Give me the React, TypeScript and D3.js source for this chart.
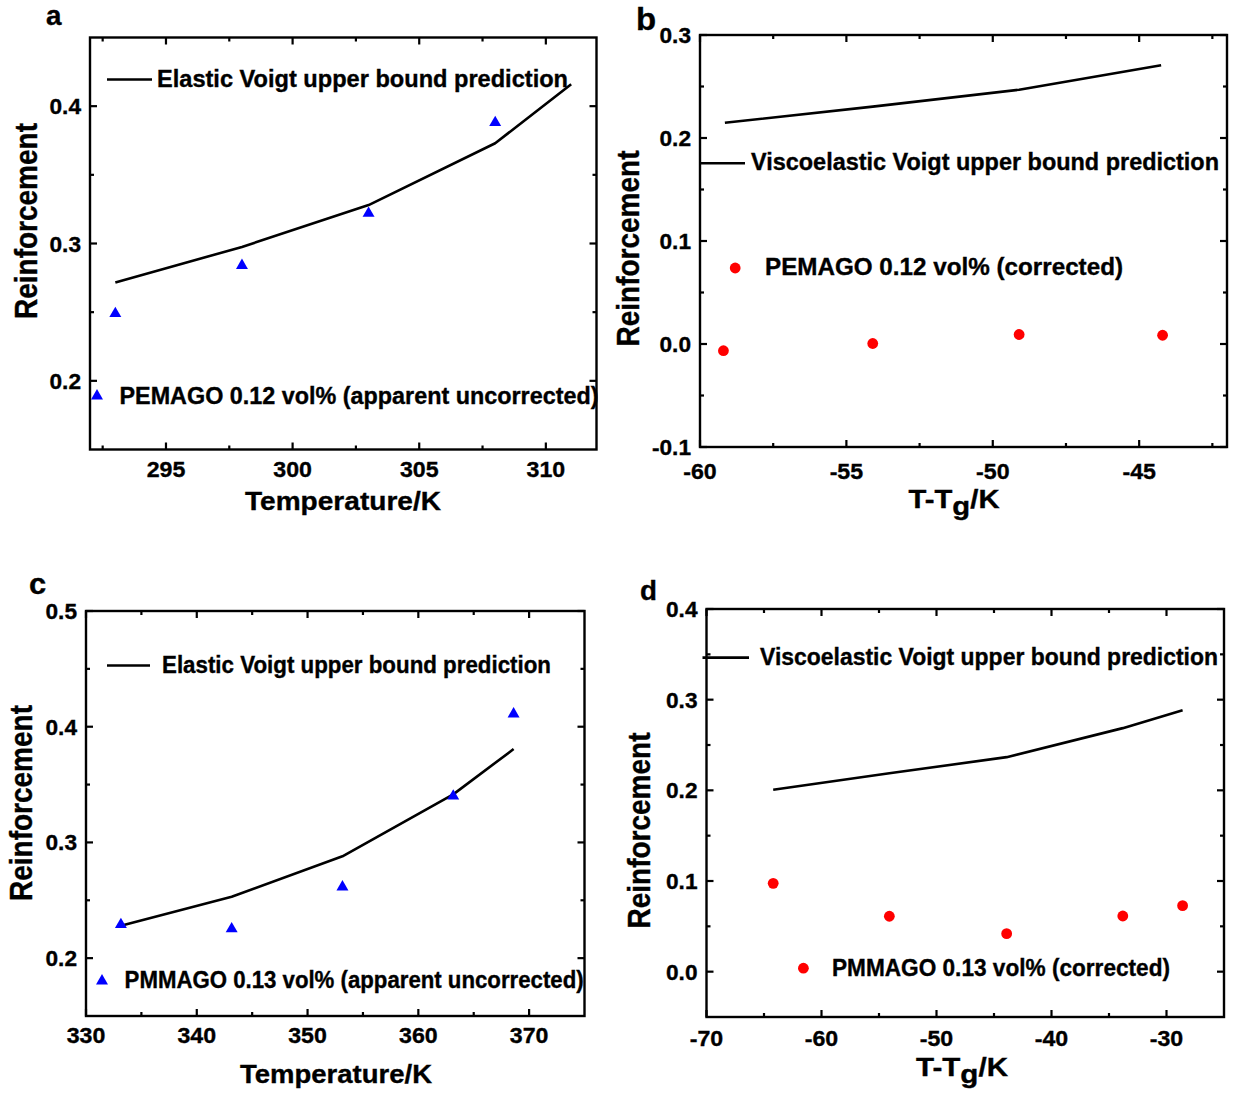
import React from "react";
import * as d3 from "d3";

// ---------------- data ----------------
// panel a : PEMAGO, temperature in K
const aTemperature = [293, 298, 303, 308];
const aApparent = [0.249, 0.284, 0.322, 0.388];
const aVoigtTemperature = [293, 298, 303, 308, 311];
const aVoigt = [0.2716, 0.2975, 0.328, 0.373, 0.416];

// panel b : PEMAGO, T - Tg in K
const bTminusTg = [-59.2, -54.1, -49.1, -44.2];
const bCorrected = [-0.0065, 0.0005, 0.0092, 0.0085];
const bVoigtTminusTg = [-59.15, -54.1, -49.1, -44.25];
const bVoigt = [0.2148, 0.2305, 0.2469, 0.2706];

// panel c : PMMAGO, temperature in K
const cTemperature = [333.15, 343.15, 353.15, 363.15, 368.6];
const cApparent = [0.229, 0.2253, 0.2615, 0.34, 0.411];
const cVoigt = [0.228, 0.253, 0.288, 0.3415, 0.3807];

// panel d : PMMAGO, T - Tg in K
const dTminusTg = [-64.2, -54.1, -43.9, -33.8, -28.6];
const dCorrected = [0.0974, 0.0611, 0.0419, 0.0614, 0.0728];
const dVoigt = [0.2007, 0.2188, 0.2366, 0.2686, 0.2883];

// ticks
const aXTicks = [295, 300, 305, 310];
const aXMinor = [292.5, 297.5, 302.5, 307.5];
const aYTicks = [0.2, 0.3, 0.4];
const aYMinor = [0.25, 0.35];

const bXTicks = [-60, -55, -50, -45];
const bXMinor = [-57.5, -52.5, -47.5, -42.5];
const bYTicks = [-0.1, 0.0, 0.1, 0.2, 0.3];
const bYMinor = [-0.05, 0.05, 0.15, 0.25];

const cXTicks = [330, 340, 350, 360, 370];
const cXMinor = [335, 345, 355, 365];
const cYTicks = [0.2, 0.3, 0.4, 0.5];
const cYMinor = [0.25, 0.35, 0.45];

const dXTicks = [-70, -60, -50, -40, -30];
const dXMinor = [-65, -55, -45, -35];
const dYTicks = [0.0, 0.1, 0.2, 0.3, 0.4];
const dYMinor = [0.05, 0.15, 0.25, 0.35];

// legend labels
const elasticLabel = "Elastic Voigt upper bound prediction";
const viscoLabel = "Viscoelastic Voigt upper bound prediction";
const aDataLabel = "PEMAGO 0.12 vol% (apparent uncorrected)";
const bDataLabel = "PEMAGO 0.12 vol% (corrected)";
const cDataLabel = "PMMAGO 0.13 vol% (apparent uncorrected)";
const dDataLabel = "PMMAGO 0.13 vol% (corrected)";

// ---------------- style ----------------
const FONT = '"Liberation Sans", Arial, Helvetica, sans-serif';
const BLUE = "#0000ff";
const RED = "#ff0000";

type PanelProps = {
  frame: { x0: number; x1: number; y0: number; y1: number };
  xDomain: [number, number];
  yDomain: [number, number];
  xTicks: number[];
  xMinor: number[];
  yTicks: number[];
  yMinor: number[];
  xLabelBase: number;
  lineX: number[];
  lineY: number[];
  ptX: number[];
  ptY: number[];
  marker: "tri" | "dot";
  legendLine: { x0: number; x1: number; y: number; tx: number; ty: number; len: number; text: string };
  legendPt: { x: number; y: number; tx: number; ty: number; len: number; text: string };
  letter: { text: string; x: number; y: number; size: number };
  yTitle: { x: number; y: number };
  xTitle: { x: number; y: number; tg: boolean; len: number };
};

function STxt(props: {
  x: number;
  y: number;
  size: number;
  sx?: number;
  anchor?: string;
  rotate?: boolean;
  children: React.ReactNode;
}) {
  const { x, y, size, sx = 1.03, anchor = "start", rotate = false, children } = props;
  return (
    <text
      transform={`translate(${x},${y}) scale(${sx},1)${rotate ? " rotate(-90)" : ""}`}
      fontFamily={FONT}
      fontWeight="bold"
      fontSize={size}
      textAnchor={anchor}
      fill="#000"
      stroke="#000"
      strokeWidth={0.35}
    >
      {children}
    </text>
  );
}

function Panel(p: PanelProps) {
  const { frame } = p;
  const x = d3.scaleLinear().domain(p.xDomain).range([frame.x0, frame.x1]);
  const y = d3.scaleLinear().domain(p.yDomain).range([frame.y1, frame.y0]);
  const line = d3
    .line<number>()
    .x((_, i) => x(p.lineX[i]))
    .y((d) => y(d));
  const tri = d3.symbol().type(d3.symbolTriangle).size(62)();
  const MAJ = 7;
  const MIN = 4;
  const fmtY = (v: number) => (Math.abs(v) < 1e-9 ? "0.0" : v.toFixed(1));
  const txtStyle = {
    fontFamily: FONT,
    fontWeight: "bold" as const,
    stroke: "#000",
    strokeWidth: 0.35,
  };
  return (
    <g>
      {/* ticks (inward, all sides) */}
      <g stroke="#000" strokeWidth={2.2}>
        {p.xTicks.map((v) => (
          <g key={"xt" + v}>
            <line x1={x(v)} x2={x(v)} y1={frame.y1} y2={frame.y1 - MAJ} />
            <line x1={x(v)} x2={x(v)} y1={frame.y0} y2={frame.y0 + MAJ} />
          </g>
        ))}
        {p.xMinor.map((v) => (
          <g key={"xm" + v}>
            <line x1={x(v)} x2={x(v)} y1={frame.y1} y2={frame.y1 - MIN} />
            <line x1={x(v)} x2={x(v)} y1={frame.y0} y2={frame.y0 + MIN} />
          </g>
        ))}
        {p.yTicks.map((v) => (
          <g key={"yt" + v}>
            <line y1={y(v)} y2={y(v)} x1={frame.x0} x2={frame.x0 + MAJ} />
            <line y1={y(v)} y2={y(v)} x1={frame.x1} x2={frame.x1 - MAJ} />
          </g>
        ))}
        {p.yMinor.map((v) => (
          <g key={"ym" + v}>
            <line y1={y(v)} y2={y(v)} x1={frame.x0} x2={frame.x0 + MIN} />
            <line y1={y(v)} y2={y(v)} x1={frame.x1} x2={frame.x1 - MIN} />
          </g>
        ))}
      </g>
      <rect
        x={frame.x0}
        y={frame.y0}
        width={frame.x1 - frame.x0}
        height={frame.y1 - frame.y0}
        fill="none"
        stroke="#000"
        strokeWidth={2.4}
      />
      {/* tick labels */}
      {p.xTicks.map((v) => (
        <STxt key={"xl" + v} x={x(v)} y={p.xLabelBase} size={22.5} anchor="middle">
          {String(v)}
        </STxt>
      ))}
      {p.yTicks.map((v) => (
        <STxt key={"yl" + v} x={frame.x0 - 9} y={y(v) + 8} size={22} anchor="end">
          {fmtY(v)}
        </STxt>
      ))}
      {/* data */}
      <path d={line(p.lineY) || ""} fill="none" stroke="#000" strokeWidth={2.6} strokeLinejoin="round" />
      {p.ptY.map((v, i) =>
        p.marker === "tri" ? (
          <path key={"pt" + i} d={tri || ""} transform={`translate(${x(p.ptX[i])},${y(v)})`} fill={BLUE} />
        ) : (
          <circle key={"pt" + i} cx={x(p.ptX[i])} cy={y(v)} r={5.4} fill={RED} />
        )
      )}
      {/* legend */}
      <line
        x1={p.legendLine.x0}
        x2={p.legendLine.x1}
        y1={p.legendLine.y}
        y2={p.legendLine.y}
        stroke="#000"
        strokeWidth={2.6}
      />
      <text
        x={p.legendLine.tx}
        y={p.legendLine.ty}
        {...txtStyle}
        fontSize={23}
        textLength={p.legendLine.len}
        lengthAdjust="spacingAndGlyphs"
      >
        {p.legendLine.text}
      </text>
      {p.marker === "tri" ? (
        <path d={tri || ""} transform={`translate(${p.legendPt.x},${p.legendPt.y})`} fill={BLUE} />
      ) : (
        <circle cx={p.legendPt.x} cy={p.legendPt.y} r={5.4} fill={RED} />
      )}
      <text
        x={p.legendPt.tx}
        y={p.legendPt.ty}
        {...txtStyle}
        fontSize={23}
        textLength={p.legendPt.len}
        lengthAdjust="spacingAndGlyphs"
      >
        {p.legendPt.text}
      </text>
      {/* titles */}
      <STxt x={p.letter.x} y={p.letter.y} size={p.letter.size}>
        {p.letter.text}
      </STxt>
      <STxt x={p.yTitle.x} y={p.yTitle.y} size={28} sx={1.13} anchor="middle" rotate>
        Reinforcement
      </STxt>
      {p.xTitle.tg ? (
        <text
          x={p.xTitle.x}
          y={p.xTitle.y}
          {...txtStyle}
          fontSize={25}
          textAnchor="middle"
          textLength={p.xTitle.len}
          lengthAdjust="spacingAndGlyphs"
        >
          T-T
          <tspan dy={7}>g</tspan>
          <tspan dy={-7}>/K</tspan>
        </text>
      ) : (
        <text
          x={p.xTitle.x}
          y={p.xTitle.y}
          {...txtStyle}
          fontSize={26}
          textAnchor="middle"
          textLength={p.xTitle.len}
          lengthAdjust="spacingAndGlyphs"
        >
          Temperature/K
        </text>
      )}
    </g>
  );
}

export default function App() {
  return (
    <svg
      width={1233}
      height={1097}
      viewBox="0 0 1233 1097"
      style={{ position: "absolute", left: 0, top: 0, background: "#fff" }}
    >
      <rect width={1233} height={1097} fill="#fff" />
      <Panel
        frame={{ x0: 90, x1: 596.5, y0: 37.5, y1: 449.5 }}
        xDomain={[292, 312]}
        yDomain={[0.15, 0.45]}
        xTicks={aXTicks}
        xMinor={aXMinor}
        yTicks={aYTicks}
        yMinor={aYMinor}
        xLabelBase={477}
        lineX={aVoigtTemperature}
        lineY={aVoigt}
        ptX={aTemperature}
        ptY={aApparent}
        marker="tri"
        legendLine={{ x0: 107, x1: 152, y: 79.5, tx: 157, ty: 86.5, len: 411, text: elasticLabel }}
        legendPt={{ x: 97, y: 396, tx: 119.5, ty: 404, len: 479, text: aDataLabel }}
        letter={{ text: "a", x: 46, y: 25, size: 27 }}
        yTitle={{ x: 36.5, y: 221 }}
        xTitle={{ x: 343, y: 510, tg: false, len: 196 }}
      />
      <Panel
        frame={{ x0: 700, x1: 1227, y0: 35, y1: 447 }}
        xDomain={[-60, -42]}
        yDomain={[-0.1, 0.3]}
        xTicks={bXTicks}
        xMinor={bXMinor}
        yTicks={bYTicks}
        yMinor={bYMinor}
        xLabelBase={479}
        lineX={bVoigtTminusTg}
        lineY={bVoigt}
        ptX={bTminusTg}
        ptY={bCorrected}
        marker="dot"
        legendLine={{ x0: 699, x1: 745, y: 163.3, tx: 751, ty: 170, len: 468, text: viscoLabel }}
        legendPt={{ x: 735.2, y: 268, tx: 765, ty: 275, len: 358, text: bDataLabel }}
        letter={{ text: "b", x: 636, y: 30, size: 32 }}
        yTitle={{ x: 638.6, y: 248.5 }}
        xTitle={{ x: 954, y: 508, tg: true, len: 91 }}
      />
      <Panel
        frame={{ x0: 86, x1: 584.5, y0: 611, y1: 1016 }}
        xDomain={[330, 375]}
        yDomain={[0.15, 0.5]}
        xTicks={cXTicks}
        xMinor={cXMinor}
        yTicks={cYTicks}
        yMinor={cYMinor}
        xLabelBase={1043}
        lineX={cTemperature}
        lineY={cVoigt}
        ptX={cTemperature}
        ptY={cApparent}
        marker="tri"
        legendLine={{ x0: 107, x1: 150, y: 665.5, tx: 162, ty: 672.5, len: 389, text: elasticLabel }}
        legendPt={{ x: 102, y: 981, tx: 124.6, ty: 988, len: 459, text: cDataLabel }}
        letter={{ text: "c", x: 29, y: 594, size: 30 }}
        yTitle={{ x: 31.6, y: 803 }}
        xTitle={{ x: 336, y: 1083, tg: false, len: 192 }}
      />
      <Panel
        frame={{ x0: 706.5, x1: 1224, y0: 609, y1: 1017 }}
        xDomain={[-70, -25]}
        yDomain={[-0.05, 0.4]}
        xTicks={dXTicks}
        xMinor={dXMinor}
        yTicks={dYTicks}
        yMinor={dYMinor}
        xLabelBase={1046}
        lineX={dTminusTg}
        lineY={dVoigt}
        ptX={dTminusTg}
        ptY={dCorrected}
        marker="dot"
        legendLine={{ x0: 702.5, x1: 749, y: 657.6, tx: 760, ty: 664.5, len: 458, text: viscoLabel }}
        legendPt={{ x: 803.4, y: 968.2, tx: 832, ty: 975.5, len: 338, text: dDataLabel }}
        letter={{ text: "d", x: 640, y: 600, size: 27 }}
        yTitle={{ x: 649.7, y: 830.5 }}
        xTitle={{ x: 962, y: 1076, tg: true, len: 92 }}
      />
    </svg>
  );
}
